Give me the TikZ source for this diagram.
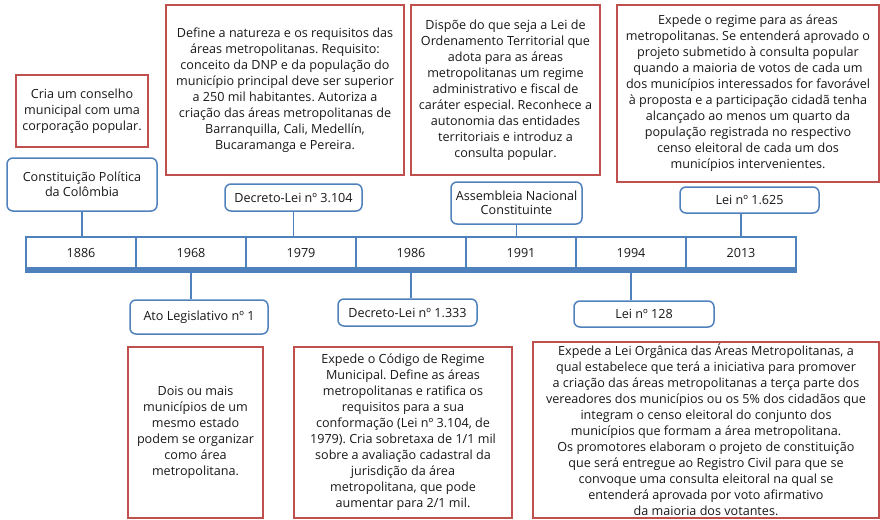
\documentclass[tikz,border=0pt]{standalone}
\usepackage{fontspec}
\setmainfont{Open Sans}
\frenchspacing
\definecolor{linhaazul}{HTML}{4F81BD}
\definecolor{linhavermelha}{HTML}{C0504D}
\definecolor{texto}{HTML}{1A1718}
\begin{document}
\begin{tikzpicture}[x=1pt, y=-1pt,
    evento/.style={draw=linhaazul, line width=1.5pt, rounded corners=6pt, fill=white, align=center, inner sep=0pt},
    nota/.style={draw=linhavermelha, line width=2pt, align=center, inner sep=0pt},
    ano/.style={draw=linhaazul, line width=1.5pt, minimum width=110pt, minimum height=31pt, inner sep=0pt},
    liga/.style={draw=linhaazul, line width=1.5pt},
    font=\fontsize{12.6}{16}\selectfont, text=texto]
    \useasboundingbox (0,0) rectangle (880,519);

    % Linha do tempo
    \foreach \ano [count=\i] in {1886,1968,1979,1986,1991,1994,2013}
        \node[ano] (c\ano) at ({81+110*(\i-1)},252.5) {\ano};
    \draw[linhaazul, line width=4pt] ([yshift=-2pt]c1886.south west) -- ([yshift=-2pt]c2013.south east);

    % Eventos acima
    \node[evento, minimum width=150pt, minimum height=53pt, font=\fontsize{12.6}{15}\selectfont] (const) at (82,184.5) {
        Constituição Política\\da Colômbia};
    \node[evento, minimum width=137pt, minimum height=27pt] (dec3104) at (293.5,197.5) {Decreto-Lei nº 3.104};
    \node[evento, minimum width=131pt, minimum height=42pt, font=\fontsize{12.6}{14}\selectfont] (assemb) at (516.5,203) {
        Assembleia Nacional\\Constituinte};
    \node[evento, minimum width=139pt, minimum height=26pt] (lei1625) at (749.5,200) {Lei nº 1.625};

    % Eventos abaixo
    \node[evento, minimum width=138pt, minimum height=34pt] (ato) at (199,317) {Ato Legislativo nº 1};
    \node[evento, minimum width=139pt, minimum height=27pt] (dec1333) at (407.5,312.5) {Decreto-Lei nº 1.333};
    \node[evento, minimum width=140pt, minimum height=26pt] (lei128) at (644,314) {Lei nº 128};

    % Ligacoes
    \draw[liga] (const.south) -- (const.south |- c1886.north);
    \draw[liga] (dec3104.south) -- (dec3104.south |- c1979.north);
    \draw[liga] (assemb.south) -- (assemb.south |- c1991.north);
    \draw[liga] (c2013.north) -- (c2013.north |- lei1625.south);
    \draw[liga] ([yshift=-4pt]c1968.south) -- (c1968.south |- ato.north);
    \draw[liga] ([yshift=-4pt]c1986.south) -- (c1986.south |- dec1333.north);
    \draw[liga] ([yshift=-4pt]c1994.south) -- (c1994.south |- lei128.north);

    % Notas acima
    \node[nota, minimum width=132pt, minimum height=72pt] (n1886) at (82,111) {
        Cria um conselho\\municipal com uma\\corporação popular.};
    \node[nota, minimum width=238pt, minimum height=170pt] (n1979) at (285,90) {
        Define a natureza e os requisitos das\\áreas metropolitanas. Requisito:\\conceito da DNP e da população do\\município principal deve ser superior\\a 250 mil habitantes. Autoriza a\\criação das áreas metropolitanas de\\Barranquilla, Cali, Medellín,\\Bucaramanga e Pereira.};
    \node[nota, minimum width=189pt, minimum height=170pt] (n1991) at (505.5,90) {
        Dispõe do que seja a Lei de\\Ordenamento Territorial que\\adota para as áreas\\metropolitanas um regime\\administrativo e fiscal de\\caráter especial. Reconhece a\\autonomia das entidades\\territoriais e introduz a\\consulta popular.};
    \node[nota, minimum width=262pt, minimum height=177pt] (n2013) at (748,93.5) {
        Expede o regime para as áreas\\metropolitanas. Se entenderá aprovado o\\projeto submetido à consulta popular\\quando a maioria de votos de cada um\\dos municípios interessados for favorável\\à proposta e a participação cidadã tenha\\alcançado ao menos um quarto da\\população registrada no respectivo\\censo eleitoral de cada um dos\\municípios intervenientes.};

    % Notas abaixo
    \node[nota, minimum width=135pt, minimum height=171pt] (n1968) at (195.5,432.5) {
        Dois ou mais\\municípios de um\\mesmo estado\\podem se organizar\\como área\\metropolitana.};
    \node[nota, minimum width=218pt, minimum height=171pt] (n1986) at (403,432.5) {
        Expede o Código de Regime\\Municipal. Define as áreas\\metropolitanas e ratifica os\\requisitos para a sua\\conformação (Lei nº 3.104, de\\1979). Cria sobretaxa de 1/1 mil\\sobre a avaliação cadastral da\\jurisdição da área\\metropolitana, que pode\\aumentar para 2/1 mil.};
    \node[nota, minimum width=346pt, minimum height=176pt] (n1994) at (706,430) {
        Expede a Lei Orgânica das Áreas Metropolitanas, a\\qual estabelece que terá a iniciativa para promover\\a criação das áreas metropolitanas a terça parte dos\\vereadores dos municípios ou os 5\% dos cidadãos que\\integram o censo eleitoral do conjunto dos\\municípios que formam a área metropolitana.\\Os promotores elaboram o projeto de constituição\\que será entregue ao Registro Civil para que se\\convoque uma consulta eleitoral na qual se\\entenderá aprovada por voto afirmativo\\da maioria dos votantes.};
\end{tikzpicture}
\end{document}
